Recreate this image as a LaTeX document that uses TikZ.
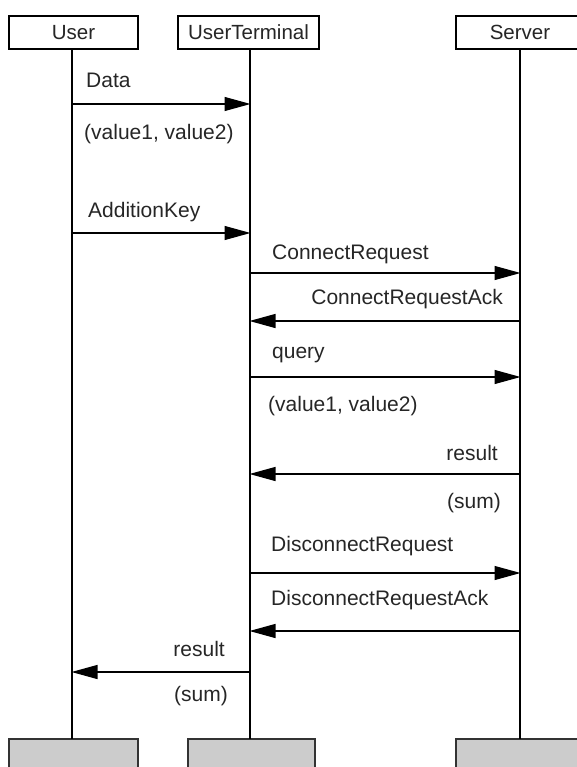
\documentclass[tikz,border=0pt]{standalone}
\usepackage{fontspec}
\setmainfont{Liberation Sans}
\usetikzlibrary{arrows.meta}

\tikzset{
  head/.style={draw=black, line width=1.2pt, fill=white, rectangle, inner sep=0pt,
               minimum height=33pt, text=black!85, font=\fontsize{20.5}{23}\selectfont},
  foot/.style={draw=black!80, line width=1.2pt, fill=black!20, rectangle, inner sep=0pt,
               minimum height=60pt},
  lifeline/.style={draw=black, line width=1.2pt},
  msg/.style={draw=black, line width=1.2pt,
              -{Triangle[length=26pt,width=14pt]}, shorten >=-0.5pt},
  lbl/.style={inner sep=0pt, text=black!85, font=\fontsize{21}{24}\selectfont},
  lleft/.style={lbl, anchor=base west},
  lright/.style={lbl, anchor=base east}
}

\begin{document}
\begin{tikzpicture}[x=1pt, y=-1pt]
\useasboundingbox (0,0) rectangle (577,767);
\clip (0,0) rectangle (577,767);

% participant heads
\node[head, minimum width=129pt] (uhead) at (73.5,32.5) {User};
\node[head, minimum width=141pt] (thead) at (248.5,32.5) {UserTerminal};
\node[head, minimum width=128pt] (shead) at (520,32.5) {Server};

% participant feet
\node[foot, minimum width=129pt] (ufoot) at (73.5,769) {};
\node[foot, minimum width=127pt] (tfoot) at (251.5,769) {};
\node[foot, minimum width=128pt] (sfoot) at (520,769) {};

% lifeline tops and bottoms
\coordinate (ut) at (72,49);   \coordinate (ub) at (72,739);
\coordinate (tt) at (250,49);  \coordinate (tb) at (250,739);
\coordinate (st) at (520,49);  \coordinate (sb) at (520,739);
\draw[lifeline] (ut) -- (ub);
\draw[lifeline] (tt) -- (tb);
\draw[lifeline] (st) -- (sb);

% message rows
\coordinate (m1) at (0,104);
\coordinate (m2) at (0,233);
\coordinate (m3) at (0,273);
\coordinate (m4) at (0,321);
\coordinate (m5) at (0,377);
\coordinate (m6) at (0,474);
\coordinate (m7) at (0,573);
\coordinate (m8) at (0,631);
\coordinate (m9) at (0,672);

% User -> UserTerminal
\draw[msg] (ut |- m1) -- (tt |- m1);
\node[lleft] (l1) at (86,88) {Data};
\node[lleft] (l1b) at (84,140) {(value1, value2)};

\draw[msg] (ut |- m2) -- (tt |- m2);
\node[lleft] (l2) at (88,218) {AdditionKey};

% UserTerminal <-> Server
\draw[msg] (tt |- m3) -- (st |- m3);
\node[lleft] (l3) at (272,259) {ConnectRequest};

\draw[msg] (st |- m4) -- (tt |- m4);
\node[lright] (l4) at (503,304) {ConnectRequestAck};

\draw[msg] (tt |- m5) -- (st |- m5);
\node[lleft] (l5) at (272,358) {query};
\node[lleft] (l5b) at (268,411) {(value1, value2)};

\draw[msg] (st |- m6) -- (tt |- m6);
\node[lright] (l6) at (498,460) {result};
\node[lright] (l6b) at (501,508) {(sum)};

\draw[msg] (tt |- m7) -- (st |- m7);
\node[lleft] (l7) at (271,551) {DisconnectRequest};

\draw[msg] (st |- m8) -- (tt |- m8);
\node[lleft] (l8) at (271,605) {DisconnectRequestAck};

% UserTerminal -> User
\draw[msg] (tt |- m9) -- (ut |- m9);
\node[lright] (l9) at (225,656) {result};
\node[lright] (l9b) at (228,701) {(sum)};
\end{tikzpicture}
\end{document}
